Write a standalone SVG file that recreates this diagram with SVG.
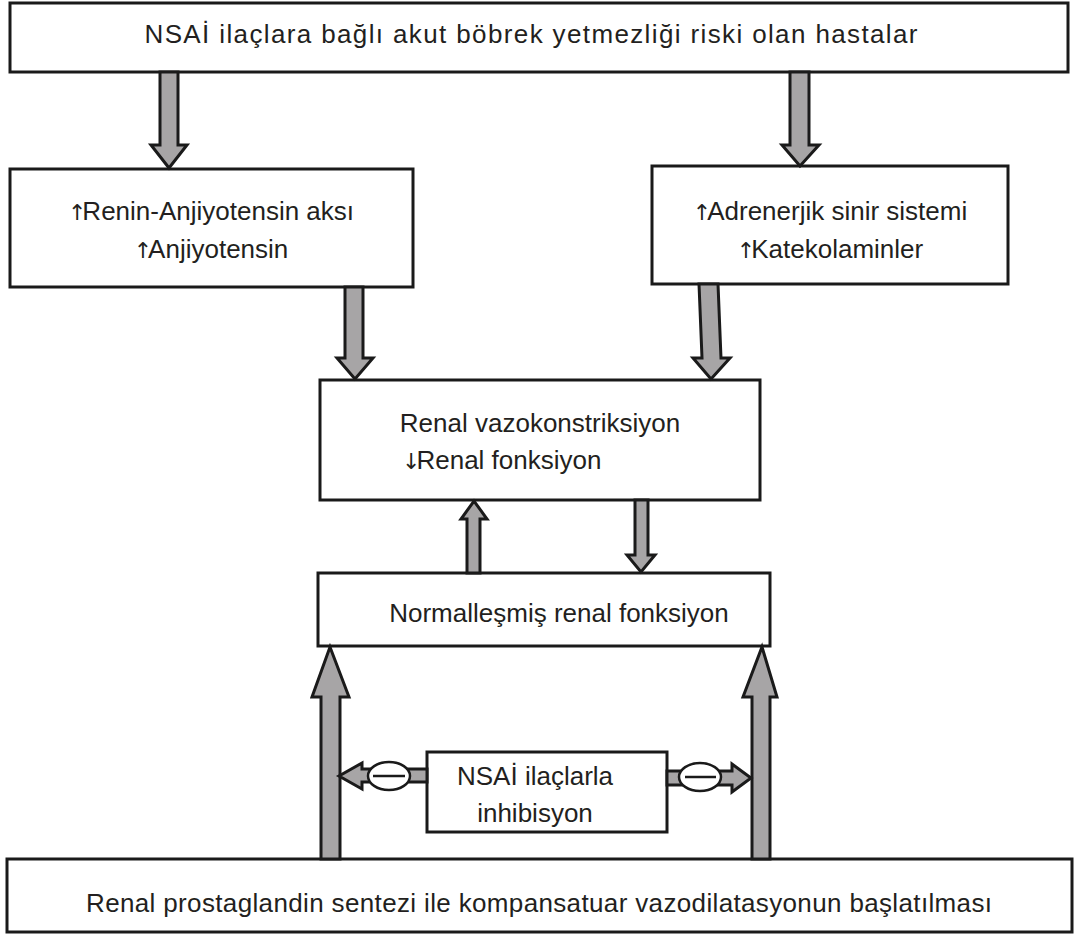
<svg xmlns="http://www.w3.org/2000/svg" width="1079" height="938" viewBox="0 0 1079 938">
<style>
.box{fill:#fff;stroke:#1a1a1a;stroke-width:3}
.arr{fill:#a7a5a6;stroke:#1a1a1a;stroke-width:3;stroke-linejoin:miter}
.inh{fill:#fff;stroke:#1a1a1a;stroke-width:2.5}
.minus{stroke:#1a1a1a;stroke-width:2.5}
text{font-family:"Liberation Sans","Noto Sans",sans-serif;font-size:26px;fill:#231f20;text-anchor:middle}
.ar{font-family:"DejaVu Sans",sans-serif;font-size:22px;letter-spacing:-4px;fill:#231f20}
</style>
<rect width="1079" height="938" fill="#fff"/>
<g id="n-top"><rect class="box" x="10" y="3" width="1058" height="69"/>
<text x="531" y="43" textLength="773">NSAİ ilaçlara bağlı akut böbrek yetmezliği riski olan hastalar</text></g>
<g id="n-renin"><rect class="box" x="10" y="169" width="403" height="118"/>
<text x="211" y="220"><tspan class="ar">↑</tspan>Renin-Anjiyotensin aksı</text>
<text x="211" y="258"><tspan class="ar">↑</tspan>Anjiyotensin</text></g>
<g id="n-adren"><rect class="box" x="652" y="166" width="356" height="118"/>
<text x="830" y="220"><tspan class="ar">↑</tspan>Adrenerjik sinir sistemi</text>
<text x="830" y="258"><tspan class="ar">↑</tspan>Katekolaminler</text></g>
<g id="n-vazo"><rect class="box" x="320" y="380" width="440" height="120"/>
<text x="540" y="432">Renal vazokonstriksiyon</text>
<text x="402" y="469" style="text-anchor:start"><tspan class="ar">↓</tspan>Renal fonksiyon</text></g>
<g id="n-norm"><rect class="box" x="318" y="573" width="452" height="73"/>
<text x="559" y="622">Normalleşmiş renal fonksiyon</text></g>
<g id="n-nsai"><rect class="box" x="427" y="752" width="240" height="80"/>
<text x="535" y="785">NSAİ ilaçlarla</text>
<text x="535" y="822">inhibisyon</text></g>
<g id="n-bottom"><rect class="box" x="7" y="859" width="1065" height="73"/>
<text x="539" y="912" textLength="906">Renal prostaglandin sentezi ile kompansatuar vazodilatasyonun başlatılması</text></g>
<g id="connectors">
<polygon class="arr" points="160,72 178,72 178,145 187,145 169,168 151,145 160,145"/>
<polygon class="arr" points="790,72 809,72 809,145 819,145 800,166 782,145 790,145"/>
<polygon class="arr" points="345,287 363,287 363,358 373,358 355,379 337,358 345,358"/>
<polygon class="arr" points="699,284 718,284 721,358 730,358 711,379 693,358 702,358"/>
<polygon class="arr" points="467,573 480,573 480,519 487,519 474,501 461,519 467,519"/>
<polygon class="arr" points="635,500 648,500 648,555 655,555 641,572 627,555 635,555"/>
<polygon class="arr" points="321,859 340,859 340,697 349,697 330,647 312,697 321,697"/>
<polygon class="arr" points="752,859 770,859 770,697 777,697 762,647 743,697 752,697"/>
<polygon class="arr" points="427,769 362,769 362,763 339,776 362,789 362,782 427,782"/>
<ellipse class="inh" cx="389" cy="776" rx="21" ry="14"/>
<line class="minus" x1="373" y1="776" x2="405" y2="776"/>
<polygon class="arr" points="667,771 732,771 732,764 751,778 732,792 732,785 667,785"/>
<ellipse class="inh" cx="700" cy="777" rx="21" ry="14"/>
<line class="minus" x1="685" y1="777" x2="716" y2="777"/>
</g>
</svg>
